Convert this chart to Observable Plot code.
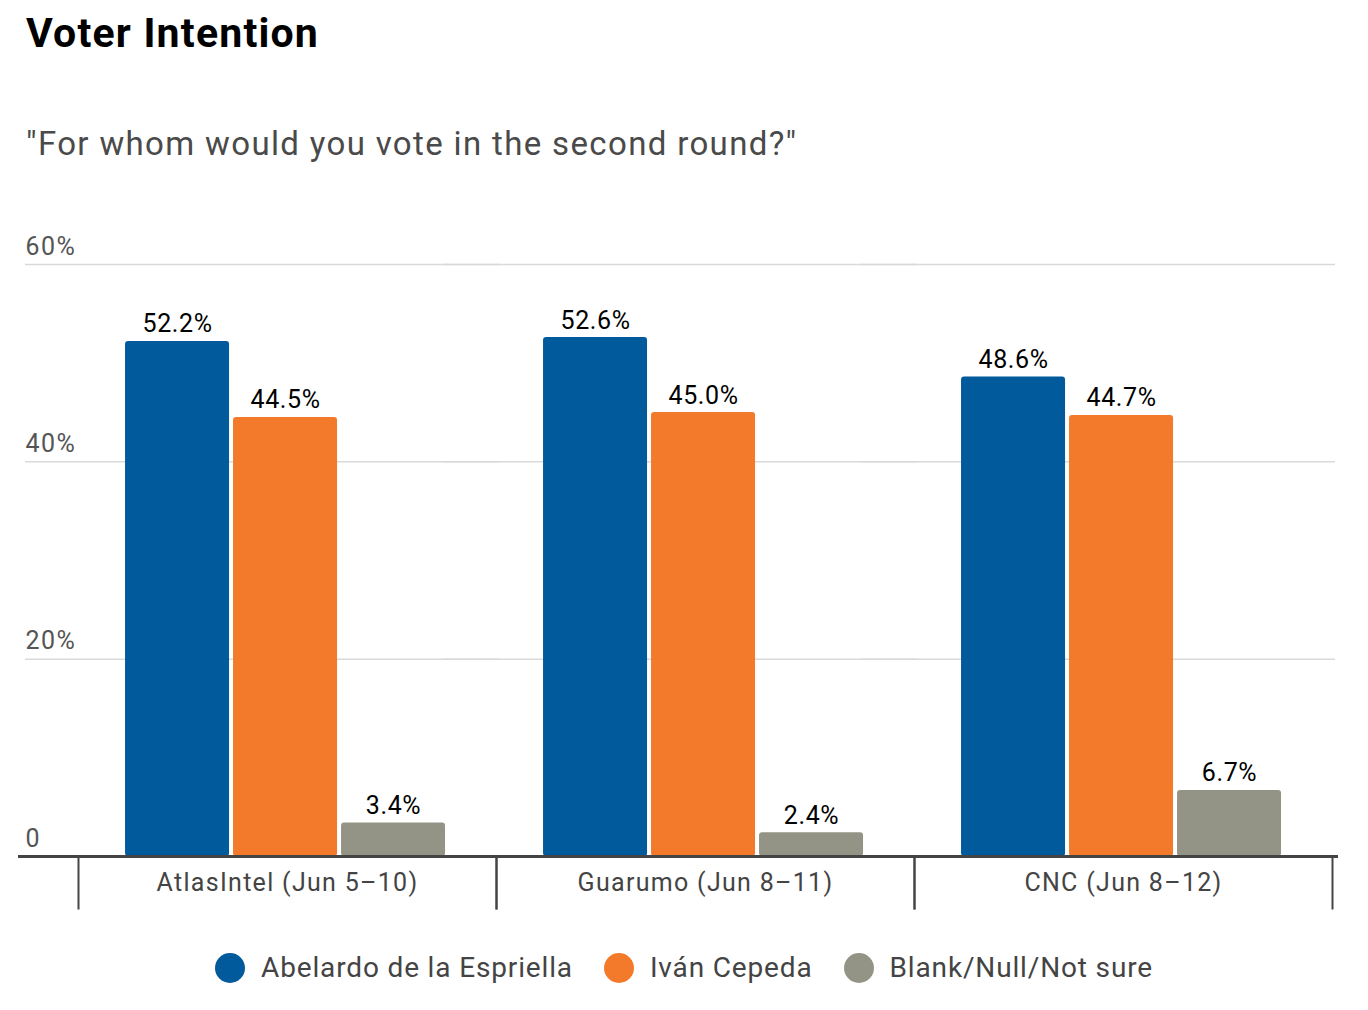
<!DOCTYPE html>
<html>
<head>
<meta charset="utf-8">
<script src="https://cdn.jsdelivr.net/npm/d3@7"></script>
<script src="https://cdn.jsdelivr.net/npm/@observablehq/plot@0.6"></script>
<style>
  html, body { margin: 0; padding: 0; background: #fff; }
  body { width: 1368px; height: 1010px; position: relative; font-family: Roboto, sans-serif; overflow: hidden; }
  #title { position: absolute; left: 26px; top: 8px; font-size: 41px; font-weight: 700; color: #000; line-height: 50px; white-space: nowrap; letter-spacing: 1.2px; }
  #subtitle { position: absolute; left: 26px; top: 124px; font-size: 33px; color: #4a4a4a; line-height: 40px; white-space: nowrap; letter-spacing: 1.35px; }
  #chart { position: absolute; left: 0; top: 200px; }
  #legend { position: absolute; left: 0; top: 951px; width: 1368px; display: flex; justify-content: center; align-items: center; gap: 31px; font-size: 28px; color: #444; letter-spacing: 0.85px; }
  .item { display: flex; align-items: center; gap: 16px; }
  .dot { width: 30px; height: 30px; border-radius: 50%; display: inline-block; }
  #chart g[aria-label="fx-axis tick label"] text { letter-spacing: 1.3px; }
  #chart g[aria-label="y-axis tick label"] text { letter-spacing: 1.5px; }
  #chart g[aria-label="text"] text { letter-spacing: 0.6px; }
</style>
</head>
<body>
<div id="title">Voter Intention</div>
<div id="subtitle">"For whom would you vote in the second round?"</div>
<div id="chart"></div>
<div id="legend"></div>
<script>
const groups = ["AtlasIntel (Jun 5–10)", "Guarumo (Jun 8–11)", "CNC (Jun 8–12)"];
const series = ["Abelardo de la Espriella", "Iván Cepeda", "Blank/Null/Not sure"];
const colors = ["#005a9c", "#f37a2a", "#949486"];
const abelardo = [52.2, 52.6, 48.6];
const cepeda = [44.5, 45.0, 44.7];
const blank = [3.4, 2.4, 6.7];
const yTicks = [0, 20, 40, 60];

const seriesValues = [abelardo, cepeda, blank];
const data = [];
groups.forEach((g, gi) => {
  series.forEach((s, si) => {
    data.push({group: g, series: s, value: seriesValues[si][gi]});
  });
});

const plot = Plot.plot({
  width: 1368,
  height: 730,
  marginTop: 64,
  marginBottom: 74,
  marginLeft: 78,
  marginRight: 36,
  style: {fontFamily: "Roboto, sans-serif", fontSize: "25px", background: "transparent"},
  fx: {domain: groups, padding: 0, label: null, round: false},
  x: {domain: series, paddingInner: 0.037, paddingOuter: 0.4537, align: 0.48, round: false, axis: null},
  y: {domain: [0, 60], axis: null},
  color: {domain: series, range: colors},
  marks: [
    Plot.ruleY([20, 40, 60], {stroke: "#d9d9d9", strokeWidth: 1.5, insetLeft: -53, insetRight: -3}),
    Plot.axisY({ticks: yTicks, tickSize: 0, tickPadding: 0, textAnchor: "start", dx: -53, dy: -18,
      tickFormat: d => d === 0 ? "0" : d + "%", fill: "#555", fontSize: 25, label: null}),
    Plot.barY(data, {fx: "group", x: "series", y: "value", fill: "series", rx: 3}),
    Plot.text(data, {fx: "group", x: "series", y: "value", text: d => d.value.toFixed(1) + "%",
      lineAnchor: "bottom", dy: -9, fill: "#000", fontSize: 25}),
    Plot.ruleY([0], {stroke: "#444", strokeWidth: 3, insetLeft: -60, insetRight: -6}),
    Plot.frame({anchor: "left", stroke: "#444", strokeWidth: 2, insetTop: 592, insetBottom: -52}),
    Plot.frame({anchor: "right", stroke: "#444", strokeWidth: 2, insetTop: 592, insetBottom: -52}),
    Plot.axisFx({anchor: "bottom", tickSize: 0, tickPadding: 17, fontSize: 25, fill: "#444", label: null})
  ]
});
document.getElementById("chart").appendChild(plot);

const legend = document.getElementById("legend");
series.forEach((s, i) => {
  const item = document.createElement("div");
  item.className = "item";
  const dot = document.createElement("span");
  dot.className = "dot";
  dot.style.background = colors[i];
  const label = document.createElement("span");
  label.textContent = s;
  item.appendChild(dot);
  item.appendChild(label);
  legend.appendChild(item);
});
</script>
</body>
</html>
